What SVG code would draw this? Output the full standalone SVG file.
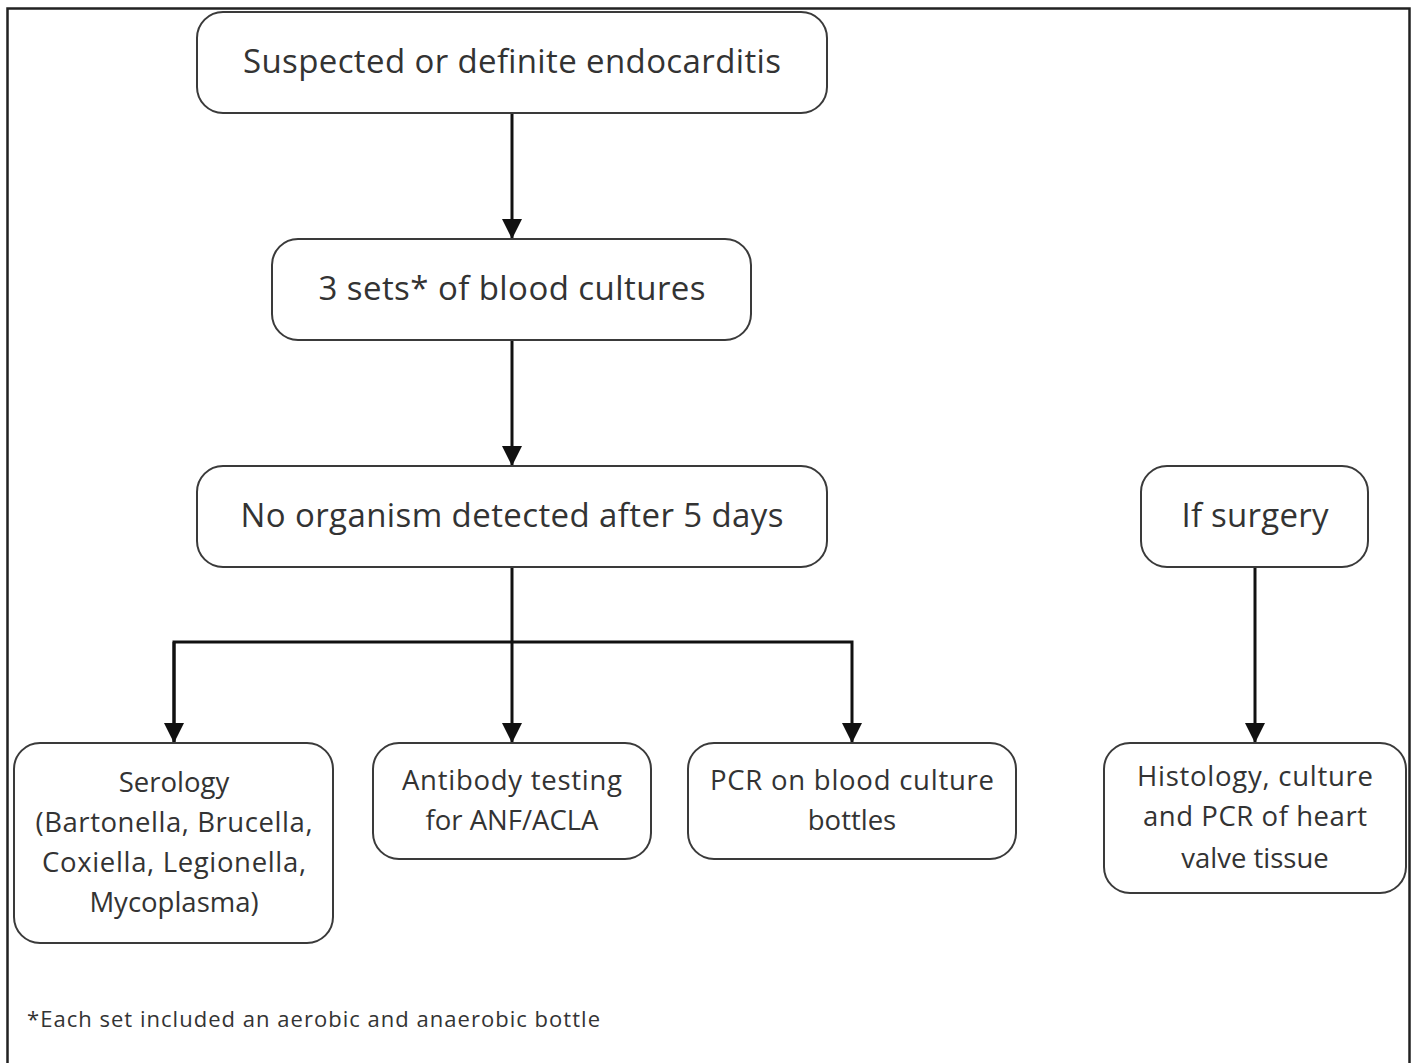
<svg xmlns="http://www.w3.org/2000/svg" width="1417" height="1063" viewBox="0 0 1417 1063">
<style>
.box{fill:#fff;stroke:#3a3a3a;stroke-width:2}
.t{font-family:"Open Sans","Liberation Sans",sans-serif;fill:#333;text-anchor:middle}
.big{font-size:33px}
.mid{font-size:27.5px}
.con{stroke:#111;stroke-width:3;fill:none}
</style>
<defs>
<marker id="ah" viewBox="0 0 20 20" refX="20" refY="10" markerWidth="20" markerHeight="20" markerUnits="userSpaceOnUse" orient="auto">
<path d="M0,0 L20,10 L0,20 Z" fill="#111"/>
</marker>
</defs>
<rect x="0" y="0" width="1417" height="1063" fill="#fff"/>
<rect x="7.5" y="8.5" width="1402" height="1070" fill="none" stroke="#222" stroke-width="2.5"/>
<g id="connectors">
<line class="con" x1="512" y1="113" x2="512" y2="239" marker-end="url(#ah)"/>
<line class="con" x1="512" y1="340" x2="512" y2="466" marker-end="url(#ah)"/>
<line class="con" x1="512" y1="567" x2="512" y2="743" marker-end="url(#ah)"/>
<polyline class="con" points="174,743 174,642 852,642 852,743" marker-end="url(#ah)"/>
<line class="con" x1="174" y1="642" x2="174" y2="743" marker-end="url(#ah)"/>
<line class="con" x1="1255" y1="567" x2="1255" y2="743" marker-end="url(#ah)"/>
</g>
<g id="n1"><rect class="box" x="197" y="12" width="630" height="101" rx="26"/><text class="t big" x="512" y="73" textLength="538">Suspected or definite endocarditis</text></g>
<g id="n2"><rect class="box" x="272" y="239" width="479" height="101" rx="26"/><text class="t big" x="512" y="300" textLength="387">3 sets* of blood cultures</text></g>
<g id="n3"><rect class="box" x="197" y="466" width="630" height="101" rx="26"/><text class="t big" x="512" y="527" textLength="543">No organism detected after 5 days</text></g>
<g id="n4"><rect class="box" x="1141" y="466" width="227" height="101" rx="26"/><text class="t big" x="1255" y="527" textLength="147">If surgery</text></g>
<g id="n5"><rect class="box" x="14" y="743" width="319" height="200" rx="26"/>
<text class="t mid" x="174" y="792">Serology</text>
<text class="t mid" x="174" y="832" textLength="277">(Bartonella, Brucella,</text>
<text class="t mid" x="174" y="872" textLength="264">Coxiella, Legionella,</text>
<text class="t mid" x="174" y="912">Mycoplasma)</text></g>
<g id="n6"><rect class="box" x="373" y="743" width="278" height="116" rx="26"/>
<text class="t mid" x="512" y="790" textLength="220">Antibody testing</text>
<text class="t mid" x="512" y="830">for ANF/ACLA</text></g>
<g id="n7"><rect class="box" x="688" y="743" width="328" height="116" rx="26"/>
<text class="t mid" x="852" y="790" textLength="284">PCR on blood culture</text>
<text class="t mid" x="852" y="830">bottles</text></g>
<g id="n8"><rect class="box" x="1104" y="743" width="302" height="150" rx="26"/>
<text class="t mid" x="1255" y="786" textLength="236">Histology, culture</text>
<text class="t mid" x="1255" y="826" textLength="224">and PCR of heart</text>
<text class="t mid" x="1255" y="868">valve tissue</text></g>
<text class="t" x="27" y="1027" style="font-size:22px;text-anchor:start" textLength="573">*Each set included an aerobic and anaerobic bottle</text>
</svg>
